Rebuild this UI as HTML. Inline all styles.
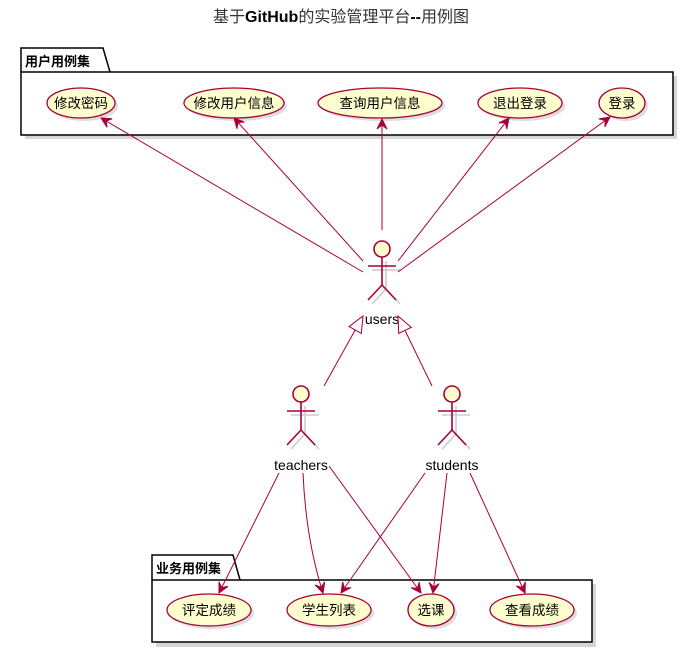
<!DOCTYPE html>
<html><head><meta charset="utf-8"><style>
html,body{margin:0;padding:0;background:#fff;}
svg{display:block;}
text{font-family:"Liberation Sans","Noto Sans CJK SC",sans-serif;}
</style></head><body>
<svg width="682" height="653" viewBox="0 0 682 653" xmlns="http://www.w3.org/2000/svg">
<defs>
<marker id="ar" viewBox="0 0 12 12" refX="11" refY="6" markerWidth="12" markerHeight="12" orient="auto" markerUnits="userSpaceOnUse">
<path d="M1,1 L11,6 L1,11 L5,6 Z" fill="#A80036" stroke="#A80036" stroke-width="1"/>
</marker>
<marker id="tri" viewBox="0 0 18 16" refX="17" refY="8" markerWidth="18" markerHeight="16" orient="auto" markerUnits="userSpaceOnUse">
<path d="M1,1 L17,8 L1,15 Z" fill="#fff" stroke="#A80036" stroke-width="1"/>
</marker>
</defs>
<text x="341" y="22" font-size="16" text-anchor="middle" fill="#333">基于<tspan font-weight="bold" fill="#000">GitHub</tspan>的实验管理平台<tspan font-weight="bold" fill="#000">--</tspan>用例图</text>

<!-- top package -->
<rect x="25" y="76" width="652" height="63" fill="#bbb" opacity="0.6"/>
<path d="M21,72 L21,48 L103,48 L110,72" fill="#fff" stroke="#000" stroke-width="1.5"/>
<rect x="21" y="72" width="652" height="63" fill="#fff" stroke="#000" stroke-width="1.5"/>
<text x="25" y="66" font-size="13" font-weight="bold">用户用例集</text>

<g fill="#FEFECE" stroke="#A80036" stroke-width="1.3">
<ellipse cx="84" cy="106" rx="34" ry="15" fill="#ddd" stroke="none"/>
<ellipse cx="81" cy="103" rx="34" ry="15"/>
<ellipse cx="237" cy="106" rx="50" ry="15" fill="#ddd" stroke="none"/>
<ellipse cx="234" cy="103" rx="50" ry="15"/>
<ellipse cx="383" cy="106" rx="62" ry="15" fill="#ddd" stroke="none"/>
<ellipse cx="380" cy="103" rx="62" ry="15"/>
<ellipse cx="523" cy="106" rx="42" ry="15" fill="#ddd" stroke="none"/>
<ellipse cx="520" cy="103" rx="42" ry="15"/>
<ellipse cx="625" cy="106" rx="23" ry="15" fill="#ddd" stroke="none"/>
<ellipse cx="622" cy="103" rx="23" ry="15"/>
</g>
<g font-size="13.5" text-anchor="middle">
<text x="81" y="108">修改密码</text>
<text x="234" y="108">修改用户信息</text>
<text x="380" y="108">查询用户信息</text>
<text x="520" y="108">退出登录</text>
<text x="622" y="108">登录</text>
</g>

<!-- bottom package -->
<rect x="156" y="584" width="440" height="63" fill="#bbb" opacity="0.6"/>
<path d="M152,580 L152,555 L233,555 L240,580" fill="#fff" stroke="#000" stroke-width="1.5"/>
<rect x="152" y="580" width="440" height="62" fill="#fff" stroke="#000" stroke-width="1.5"/>
<text x="156" y="573" font-size="13" font-weight="bold">业务用例集</text>
<g fill="#FEFECE" stroke="#A80036" stroke-width="1.3">
<ellipse cx="212" cy="613" rx="42" ry="16" fill="#ddd" stroke="none"/>
<ellipse cx="209" cy="610" rx="42" ry="16"/>
<ellipse cx="332" cy="613" rx="42" ry="16" fill="#ddd" stroke="none"/>
<ellipse cx="329" cy="610" rx="42" ry="16"/>
<ellipse cx="434" cy="613" rx="23" ry="16" fill="#ddd" stroke="none"/>
<ellipse cx="431" cy="610" rx="23" ry="16"/>
<ellipse cx="535" cy="613" rx="42" ry="16" fill="#ddd" stroke="none"/>
<ellipse cx="532" cy="610" rx="42" ry="16"/>
</g>
<g font-size="13.5" text-anchor="middle">
<text x="209" y="615">评定成绩</text>
<text x="329" y="615">学生列表</text>
<text x="431" y="615">选课</text>
<text x="532" y="615">查看成绩</text>
</g>

<!-- actors -->
<g stroke="#A80036" stroke-width="1.6" fill="none">
<g transform="translate(382,249)">
 <g stroke="#ccc" transform="translate(4,4)"><line x1="0" y1="8" x2="0" y2="36"/><line x1="-14" y1="17" x2="14" y2="17"/><path d="M-14,51 L0,36 L14,51"/></g>
 <circle cx="0" cy="0" r="8" fill="#FEFECE"/>
 <line x1="0" y1="8" x2="0" y2="36"/><line x1="-14" y1="17" x2="14" y2="17"/><path d="M-14,51 L0,36 L14,51"/>
</g>
<g transform="translate(301,394)">
 <g stroke="#ccc" transform="translate(4,4)"><line x1="0" y1="8" x2="0" y2="36"/><line x1="-14" y1="17" x2="14" y2="17"/><path d="M-14,51 L0,36 L14,51"/></g>
 <circle cx="0" cy="0" r="8" fill="#FEFECE"/>
 <line x1="0" y1="8" x2="0" y2="36"/><line x1="-14" y1="17" x2="14" y2="17"/><path d="M-14,51 L0,36 L14,51"/>
</g>
<g transform="translate(452,394)">
 <g stroke="#ccc" transform="translate(4,4)"><line x1="0" y1="8" x2="0" y2="36"/><line x1="-14" y1="17" x2="14" y2="17"/><path d="M-14,51 L0,36 L14,51"/></g>
 <circle cx="0" cy="0" r="8" fill="#FEFECE"/>
 <line x1="0" y1="8" x2="0" y2="36"/><line x1="-14" y1="17" x2="14" y2="17"/><path d="M-14,51 L0,36 L14,51"/>
</g>
</g>
<g font-size="14" text-anchor="middle">
<text x="382" y="324">users</text>
<text x="301" y="470">teachers</text>
<text x="452" y="470">students</text>
</g>

<!-- connectors -->
<g stroke="#A80036" stroke-width="1" fill="none">
<line x1="363" y1="272" x2="101" y2="118" marker-end="url(#ar)"/>
<line x1="363" y1="261" x2="234" y2="118" marker-end="url(#ar)"/>
<line x1="382" y1="230" x2="382" y2="119" marker-end="url(#ar)"/>
<line x1="398" y1="261" x2="509" y2="118" marker-end="url(#ar)"/>
<line x1="398" y1="272" x2="610" y2="117" marker-end="url(#ar)"/>
<line x1="324" y1="386" x2="363" y2="316" marker-end="url(#tri)"/>
<line x1="432" y1="386" x2="398" y2="316" marker-end="url(#tri)"/>
<line x1="279" y1="473" x2="219" y2="593" marker-end="url(#ar)"/>
<path d="M303,473 Q306,540 323,593" marker-end="url(#ar)"/>
<line x1="329" y1="466" x2="421" y2="593" marker-end="url(#ar)"/>
<line x1="425" y1="473" x2="341" y2="593" marker-end="url(#ar)"/>
<line x1="447" y1="473" x2="433" y2="593" marker-end="url(#ar)"/>
<line x1="470" y1="473" x2="525" y2="593" marker-end="url(#ar)"/>
</g>
</svg>
</body></html>
